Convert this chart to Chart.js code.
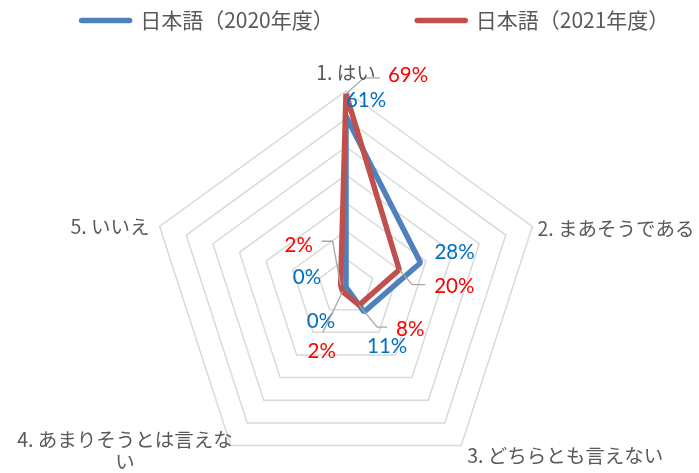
<!DOCTYPE html>
<html><head><meta charset="utf-8">
<script src="https://cdn.jsdelivr.net/npm/chart.js@4"></script>
<style>html,body{margin:0;padding:0;background:#fff}#wrap{width:699px;height:473px}</style>
</head><body><div id="wrap"><canvas id="c" width="699" height="473"></canvas></div>
<script>
// ---- data ----
const categories = ['1. はい', '2. まあそうである', '3. どちらとも言えない', ['4. あまりそうとは言えな', 'い'], '5. いいえ'];
const seriesNames = ['日本語（2020年度）', '日本語（2021年度）'];
const values2020 = [61, 28, 11, 0, 0];
const values2021 = [69, 20, 8, 2, 2];
const tickValues = [0, 10, 20, 30, 40, 50, 60, 70];

// ---- styling ----
const lineColors = ['#4F81BD', '#C0504D'];
const labelColors = ['#0070C0', '#FF0000'];
const textGray = '#595959';
const cjk = '"Noto Sans CJK JP", "Noto Sans", sans-serif';
// data-label offsets from their point (label centre), per dataset/index
const labelOffsets = [
  [[20, -16], [34, -10], [23, 34], [-25, 34], [-39, -10]],
  [[62, -18], [55, 17], [51, 24], [-21, 60], [-42, -40]]
];
// leader-line bends, relative to label centre
const leaders = [
  [null, null, null, null, null],
  [[[-44, 2], [-28, 2]], [[-42, -2], [-29, -2]], [[-33, -2], [-23, -2]], [[1, -19]], [[34, -4], [23, -4]]]
];
// point-label offsets from polygon vertex and alignment
const catOffsets = [[0, -18, 'center'], [5, 2, 'left'], [6, 10, 'left'], [2, 5, 'right'], [-10, 0, 'right']];
const legendSpacer = ['\u3000\u3000\u3000\u3000', ''];

const dataLabelPlugin = {
  id: 'dataLabels',
  afterDatasetsDraw(chart) {
    const ctx = chart.ctx;
    ctx.save();
    chart.data.datasets.forEach((ds, di) => {
      const meta = chart.getDatasetMeta(di);
      meta.data.forEach((pt, i) => {
        const [dx, dy] = labelOffsets[di][i];
        const lx = pt.x + dx, ly = pt.y + dy;
        const ld = leaders[di][i];
        if (ld) {
          ctx.beginPath();
          ctx.strokeStyle = '#A6A6A6';
          ctx.lineWidth = 1.3;
          ctx.moveTo(pt.x, pt.y);
          ld.forEach(([bx, by]) => ctx.lineTo(lx + bx, ly + by));
          ctx.stroke();
        }
        ctx.fillStyle = labelColors[di];
        ctx.font = '20.5px Lato, "Noto Sans", sans-serif';
        ctx.textAlign = 'center';
        ctx.textBaseline = 'middle';
        ctx.fillText(ds.data[i] + '%', lx, ly);
      });
    });
    ctx.restore();
  }
};

const pointLabelPlugin = {
  id: 'catLabels',
  afterDraw(chart) {
    const scale = chart.scales.r;
    const ctx = chart.ctx;
    ctx.save();
    ctx.font = '19.5px ' + cjk;
    ctx.fillStyle = textGray;
    ctx.textBaseline = 'middle';
    const lh = 22;
    categories.forEach((cat, i) => {
      const v = scale.getPointPosition(i, scale.drawingArea);
      const [dx, dy, align] = catOffsets[i];
      const lines = Array.isArray(cat) ? cat : [cat];
      const w = Math.max(...lines.map(l => ctx.measureText(l).width));
      let cxp;
      if (align === 'center') cxp = v.x + dx;
      else if (align === 'left') cxp = v.x + dx + w / 2;
      else cxp = v.x + dx - w / 2;
      const y0 = v.y + dy - (lines.length - 1) * lh / 2;
      ctx.textAlign = 'center';
      lines.forEach((l, k) => ctx.fillText(l, cxp, y0 + k * lh));
    });
    ctx.restore();
  }
};

new Chart(document.getElementById('c'), {
  type: 'radar',
  data: {
    labels: categories,
    datasets: [
      { label: seriesNames[0], data: values2020, borderColor: lineColors[0], backgroundColor: lineColors[0],
        borderWidth: 5.5, borderJoinStyle: 'bevel', fill: false, pointRadius: 0, pointHoverRadius: 0, order: 1, clip: false },
      { label: seriesNames[1], data: values2021, borderColor: lineColors[1], backgroundColor: lineColors[1],
        borderWidth: 5.5, borderJoinStyle: 'bevel', fill: false, pointRadius: 0, pointHoverRadius: 0, order: 0, clip: false }
    ]
  },
  options: {
    responsive: false,
    animation: false,
    devicePixelRatio: 1,
    layout: { padding: { left: 52, top: 0, right: 0, bottom: 0 } },
    plugins: {
      tooltip: { enabled: false },
      legend: {
        position: 'top',
        labels: {
          color: textGray,
          font: { family: cjk, size: 21 },
          usePointStyle: true,
          pointStyle: 'line',
          pointStyleWidth: 48,
          padding: 10,
          sort: (a, b) => a.datasetIndex - b.datasetIndex,
          generateLabels(chart) {
            const items = Chart.defaults.plugins.legend.labels.generateLabels(chart);
            items.forEach(it => {
              const di = it.datasetIndex;
              it.text = seriesNames[di] + legendSpacer[di];
              it.pointStyle = 'line';
              it.lineCap = 'round';
              it.lineWidth = 5.5;
              it.strokeStyle = lineColors[di];
              it.fillStyle = lineColors[di];
            });
            return items;
          }
        }
      }
    },
    scales: {
      r: {
        min: tickValues[0],
        max: tickValues[tickValues.length - 1],
        ticks: { display: false, stepSize: 10 },
        afterBuildTicks(s) { s.ticks = tickValues.map(v => ({ value: v })); },
        grid: { color: '#D9D9D9', lineWidth: 1.5 },
        angleLines: { display: false },
        pointLabels: { display: false },
        afterFit(s) { s.xCenter = 346; s.yCenter = 287; s.drawingArea = 196; }
      }
    }
  },
  plugins: [dataLabelPlugin, pointLabelPlugin]
});
</script>
</body></html>
